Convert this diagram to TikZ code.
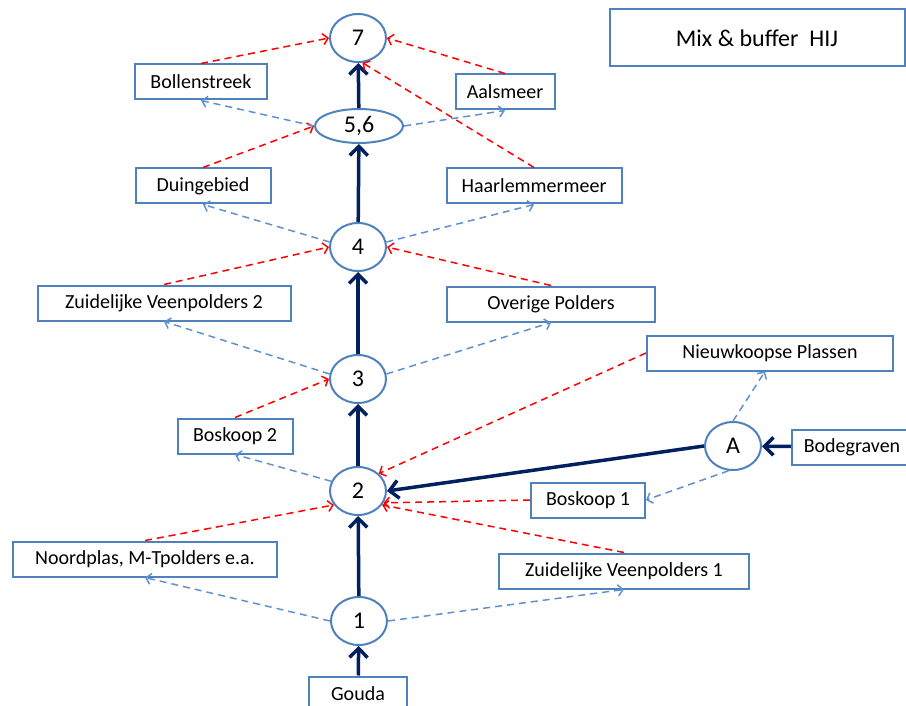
\documentclass[tikz,border=0pt]{standalone}
\usepackage{fontspec}
\setmainfont{Carlito}
\usetikzlibrary{calc, positioning}
\usetikzlibrary{shapes.geometric}
\usetikzlibrary{arrows.meta}

\definecolor{boxblue}{RGB}{79,129,189}
\definecolor{flowblue}{RGB}{95,145,210}
\definecolor{mainnavy}{RGB}{0,32,96}

\begin{document}
\begin{tikzpicture}[x=1pt, y=-1pt,
  area/.style={draw=boxblue, line width=2pt, fill=white, minimum height=35pt,
    inner sep=2pt, font=\fontsize{20}{22}\selectfont},
  mix/.style={draw=boxblue, line width=2pt, ellipse, fill=white, minimum width=56pt,
    minimum height=48pt, inner sep=0pt, font=\fontsize{24}{26}\selectfont},
  mainflow/.style={draw=mainnavy, line width=3.5pt,
    -{Straight Barb[length=9pt, width=18pt]}},
  inflow/.style={draw=red, line width=1.5pt, dash pattern=on 7pt off 5pt,
    -{Straight Barb[length=5pt, width=11pt]}},
  outflow/.style={draw=flowblue, line width=1.5pt, dash pattern=on 7pt off 5pt,
    -{Straight Barb[length=5pt, width=11pt]}},
]
\useasboundingbox (0,0) rectangle (906,706);

% mixing points on the main line
\node[mix] (m7) at (358,38) {7};
\node[mix, minimum width=88pt, minimum height=34pt] (m56) at (359,126) {5,6};
\node[mix] (m4) at (358,247) {4};
\node[mix] (m3) at (358,379) {3};
\node[mix] (m2) at (358,491) {2};
\node[mix] (m1) at (359,621) {1};
\node[mix] (mA) at (733,446) {A};

% areas
\node[area, minimum width=132pt] (boll) at (201,82) {Bollenstreek};
\node[area, minimum width=99pt] (aals) at (505,92) {Aalsmeer};
\node[area, minimum width=135pt] (duin) at (203,186) {Duingebied};
\node[area, minimum width=175pt] (haar) at (534,186) {Haarlemmermeer};
\node[area, minimum width=253pt] (zuid2) at (164,303) {Zuidelijke Veenpolders 2};
\node[area, minimum width=208pt] (over) at (551,304) {Overige Polders};
\node[area, minimum width=246pt] (nieuw) at (770,353) {Nieuwkoopse Plassen};
\node[area, minimum width=115pt] (bosk2) at (235,436) {Boskoop 2};
\node[area, minimum width=120pt] (bode) at (852,447) {Bodegraven};
\node[area, minimum width=114pt] (bosk1) at (588,500) {Boskoop 1};
\node[area, minimum width=264pt] (noord) at (145,559) {Noordplas, M-Tpolders e.a.};
\node[area, minimum width=250pt] (zuid1) at (624,571) {Zuidelijke Veenpolders 1};
\node[area, minimum width=98pt] (gouda) at (358,694) {Gouda};
\node[area, minimum width=295pt, minimum height=57pt,
  font=\fontsize{24}{26}\selectfont] (title) at (757,38) {Mix \& buffer~~HIJ};

% main line
\draw[mainflow] (gouda) -- (m1);
\draw[mainflow] (m1) -- (m2);
\draw[mainflow] (m2) -- (m3);
\draw[mainflow] (m3) -- (m4);
\draw[mainflow] (m4) -- (m56);
\draw[mainflow] (m56) -- (m7);
\draw[mainflow] (bode) -- (mA);
\draw[mainflow] (mA.west) -- (m2.east);

% inflow
\draw[inflow] (boll.north) -- (m7.west);
\draw[inflow] (aals.north) -- (m7.east);
\draw[inflow] (haar.north) -- (m7.-80);
\draw[inflow] (duin.north) -- (m56.west);
\draw[inflow] (zuid2.north) -- (m4.west);
\draw[inflow] (over.north) -- (m4.east);
\draw[inflow] (bosk2.north) -- (m3.west);
\draw[inflow] (nieuw.west) -- (m2.40);
\draw[inflow] (bosk1.west) -- (m2.-25);
\draw[inflow] (noord.north) -- (m2.-150);
\draw[inflow] (zuid1.north) -- (m2.-30);

% outflow
\draw[outflow] (m56.west) -- (boll.south);
\draw[outflow] (m56.east) -- (aals.south);
\draw[outflow] (m4.170) -- (duin.south);
\draw[outflow] (m4.10) -- (haar.south);
\draw[outflow] (m3.170) -- (zuid2.south);
\draw[outflow] (m3.10) -- (over.south);
\draw[outflow] (m2.160) -- (bosk2.south);
\draw[outflow] (mA.north) -- ($(nieuw.south)+(-5,0)$);
\draw[outflow] (mA.-100) -- (bosk1.east);
\draw[outflow] (m1.west) -- (noord.south);
\draw[outflow] (m1.east) -- (zuid1.south);
\end{tikzpicture}
\end{document}
